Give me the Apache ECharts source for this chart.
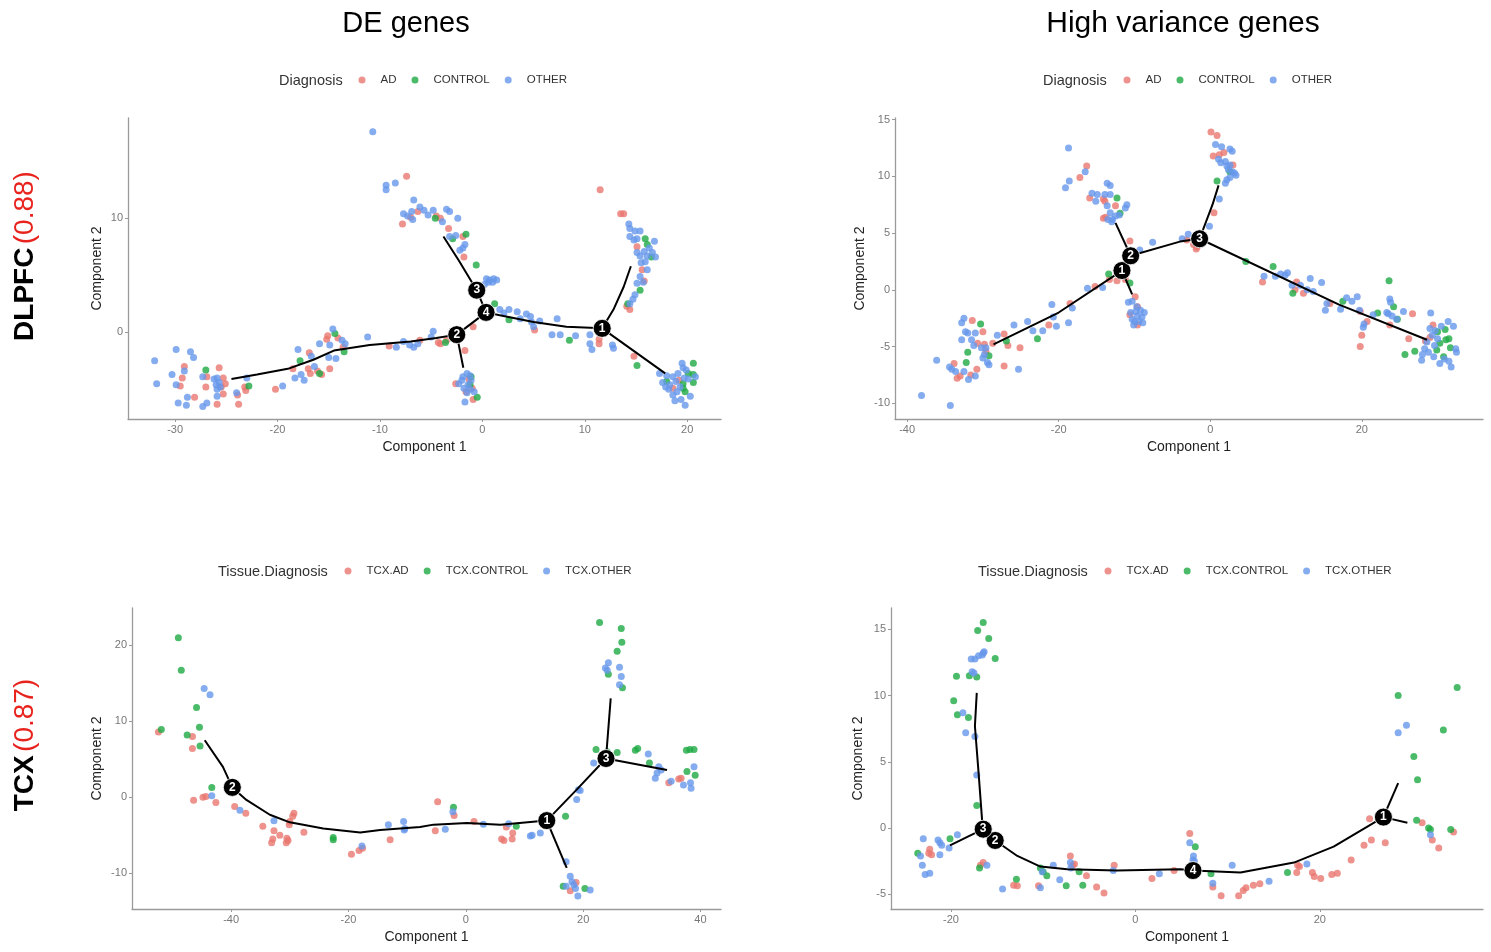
<!DOCTYPE html>
<html>
<head>
<meta charset="utf-8">
<title>Trajectories</title>
<script src="https://cdn.jsdelivr.net/npm/echarts@6/dist/echarts.min.js"></script>
<style>
  html, body { margin: 0; padding: 0; background: #fff; }
  #chart { width: 1491px; height: 952px; }
</style>
</head>
<body>
<div id="chart"></div>
<script>
// ---- DLPFC / DE genes ----
const p1AD = [[-7.4,13.7],[-7.8,9.5],[-6.3,10.6],[-7.0,10.1],[-4.5,10.2],[-4.1,10.0],[-3.3,9.1],[-1.9,8.4],[-1.8,6.6],[5.1,0.2],[11.4,-0.6],[11.4,-1.0],[14.8,-2.1],[-4.3,-0.9],[-0.9,0.5],[-1.7,-1.6],[-2.6,-4.5],[-1.3,-4.1],[-1.0,-4.9],[-1.6,-5.2],[-0.9,-5.9],[11.5,12.5],[13.5,10.4],[13.8,10.4],[15.1,7.5],[15.6,5.5],[15.8,4.5],[14.1,2.3],[14.4,2.0],[19.2,-4.2],[18.6,-4.9],[-29.5,-4.7],[-29.3,-4.0],[-29.1,-3.0],[-28.1,-5.7],[-26.9,-3.9],[-27.0,-4.8],[-25.9,-6.3],[-25.7,-3.1],[-25.3,-4.0],[-25.1,-4.5],[-25.3,-5.4],[-25.5,-4.8],[-23.9,-5.5],[-23.8,-6.3],[-23.2,-4.8],[-23.1,-5.1],[-20.2,-5.0],[-18.5,-3.2],[-16.9,-1.8],[-17.0,-3.2],[-16.8,-3.6],[-16.1,-3.4],[-15.7,-3.7],[-15.1,-0.3],[-15.2,-0.6],[-14.9,-3.2],[-14.1,-0.5],[-13.6,-1.3],[-9.1,-1.2],[-6.1,-0.7],[-4.1,-1.0],[-3.5,-0.7]];
const p1CONTROL = [[-4.6,10.0],[-2.9,8.2],[-1.6,8.6],[-0.6,5.9],[1.2,2.5],[2.6,1.1],[8.5,-0.7],[15.1,-2.9],[-3.6,-0.9],[-1.1,-3.9],[-1.2,-4.6],[-0.5,-5.7],[15.9,8.2],[16.1,7.7],[16.5,6.6],[15.4,3.7],[14.2,2.5],[20.6,-2.7],[20.1,-3.6],[20.6,-3.7],[20.6,-4.4],[19.6,-4.5],[19.6,-4.9],[19.8,-5.2],[18.0,-4.3],[-27.0,-3.3],[-22.8,-4.7],[-17.8,-2.5],[-15.9,-3.6],[-14.4,-0.1],[-13.5,-1.7]];
const p1OTHER = [[-10.7,17.6],[-9.4,12.9],[-9.4,12.5],[-8.5,13.1],[-6.7,11.6],[-7.7,10.4],[-6.9,10.6],[-6.1,11.0],[-5.7,10.7],[-6.8,9.9],[-4.8,10.7],[-3.9,9.7],[-3.5,10.8],[-3.2,10.6],[-2.4,10.0],[-3.2,8.4],[-2.6,8.5],[-1.7,7.7],[-1.9,7.4],[-2.2,7.2],[-7.3,10.2],[-5.3,10.3],[0.4,4.7],[0.7,4.6],[1.1,4.7],[0.6,4.4],[1.0,4.4],[1.4,4.6],[0.2,4.2],[1.7,2.0],[2.6,2.0],[3.4,1.8],[3.7,1.2],[4.7,1.4],[4.8,0.9],[5.0,0.5],[5.6,1.0],[6.8,-0.2],[7.3,1.2],[7.6,-0.2],[9.1,-0.3],[10.5,-0.2],[10.5,-1.0],[10.7,-1.5],[12.7,-1.1],[12.8,-1.4],[4.3,1.6],[2.1,1.7],[-4.8,0.1],[-7.7,-0.8],[-7.1,-1.1],[-6.7,-1.3],[-6.3,-1.0],[-8.4,-1.3],[-11.2,-0.4],[-5.0,-0.4],[-2.3,-4.5],[-1.9,-3.9],[-1.5,-3.6],[-1.2,-3.8],[-1.1,-4.2],[-1.4,-4.6],[-1.8,-4.9],[-1.2,-5.0],[-1.5,-5.3],[-0.8,-5.2],[-1.7,-6.1],[-2.0,-4.2],[14.3,9.5],[14.4,9.1],[14.9,8.9],[15.4,8.9],[14.4,8.4],[14.8,8.1],[15.1,8.2],[15.1,7.0],[15.4,6.7],[15.8,7.1],[16.1,6.7],[16.6,7.0],[16.9,6.6],[15.9,6.2],[15.5,6.1],[16.1,5.5],[15.4,4.9],[15.1,4.3],[15.7,4.4],[14.9,3.3],[14.7,2.9],[14.4,2.5],[16.8,8.0],[16.3,7.4],[17.3,-3.6],[17.6,-4.4],[18.0,-3.8],[18.3,-4.6],[18.6,-3.9],[18.9,-4.3],[19.1,-3.6],[19.3,-4.8],[19.6,-3.1],[19.5,-2.7],[19.9,-3.3],[20.1,-4.1],[19.0,-5.2],[18.6,-5.5],[19.4,-5.9],[19.8,-6.4],[20.3,-5.6],[18.2,-5.0],[19.7,-4.0],[20.8,-3.9],[17.9,-4.8],[18.8,-6.0],[-32.0,-2.5],[-31.8,-4.5],[-30.3,-3.7],[-29.9,-1.5],[-29.9,-4.6],[-29.1,-3.4],[-29.7,-6.2],[-28.8,-5.7],[-28.9,-6.4],[-28.5,-1.7],[-28.2,-2.2],[-27.3,-6.5],[-26.9,-6.2],[-27.3,-3.9],[-26.2,-4.1],[-25.9,-4.0],[-25.7,-4.4],[-26.0,-4.6],[-25.9,-5.0],[-25.6,-4.8],[-25.9,-5.6],[-24.0,-5.3],[-23.0,-4.0],[-19.5,-4.7],[-18.3,-4.0],[-18.0,-1.5],[-17.7,-3.7],[-17.4,-4.2],[-16.7,-2.1],[-16.4,-3.0],[-15.9,-1.0],[-14.9,-1.1],[-14.6,0.3],[-15.0,-2.2],[-13.7,-0.7],[-14.3,-2.3],[-13.4,-1.0]];
const p1Path = [
  [[-24.5,-4.1],[-22.0,-3.7],[-19.0,-3.2],[-16.5,-2.4],[-14.5,-1.6],[-11.0,-1.1],[-7.0,-0.8],[-4.5,-0.5],[-2.5,-0.2],[0.36,1.75],[1.7,1.5],[5.0,0.9],[8.2,0.5],[11.7,0.35],[17.85,-3.6]],
  [[-2.5,-0.2],[-1.86,-3.1]],
  [[0.36,1.75],[-0.55,3.7],[-2.3,6.3],[-3.8,8.4]],
  [[11.7,0.35],[12.8,2.0],[13.8,4.0],[14.5,5.8]]
];
const p1Nodes = [[11.7,0.35,'1'],[-2.5,-0.2,'2'],[-0.55,3.7,'3'],[0.36,1.75,'4']];
const p1XTicks = [-30,-20,-10,0,10,20];
const p1YTicks = [0,10];

// ---- DLPFC / High variance genes ----
const p2AD = [[-33.8,-6.5],[-33.4,-7.8],[-33.0,-7.6],[-31.6,-7.5],[-30.8,-7.0],[-31.4,-2.7],[-30.7,-4.7],[-30.0,-3.7],[-29.8,-4.8],[-29.6,-5.4],[-28.7,-4.7],[-27.2,-3.9],[-27.2,-6.7],[-26.7,-4.9],[-25.1,-5.1],[-21.3,-3.1],[-18.5,-1.2],[-15.2,0.3],[-13.3,0.9],[-12.3,0.8],[-11.2,0.9],[-10.6,4.3],[-9.9,-0.6],[-10.6,-2.2],[-9.6,-3.1],[-9.6,-1.5],[-16.3,10.9],[-17.2,9.9],[-15.9,8.1],[-14.1,8.0],[-13.9,7.8],[-12.5,7.4],[-14.1,6.3],[-13.8,6.4],[0.1,13.9],[0.9,13.6],[0.4,11.8],[1.2,11.9],[1.8,12.1],[3.0,11.0],[0.5,6.8],[-3.1,4.4],[-2.2,4.0],[-1.85,3.6],[-1.7,3.8],[6.9,0.7],[11.4,0.7],[11.2,0.0],[12.3,-0.3],[15.8,-1.2],[19.8,-1.9],[20.0,-4.0],[19.8,-5.0],[20.7,-2.8],[23.7,-3.1],[26.7,-2.1],[26.2,-4.3],[29.4,-3.1],[29.0,-4.2],[28.4,-4.5]];
const p2CONTROL = [[-32.0,-5.5],[-32.2,-6.4],[-30.3,-3.0],[-29.2,-5.8],[-26.9,-4.5],[-22.8,-4.3],[-13.4,1.4],[-10.6,0.6],[-12.3,8.1],[-11.9,6.75],[2.6,10.4],[0.9,9.6],[4.7,2.5],[8.3,2.05],[10.9,-0.3],[17.5,-1.0],[22.1,-2.05],[23.6,0.8],[24.2,-1.5],[24.7,-2.6],[25.7,-5.7],[27.0,-5.4],[31.0,-3.5],[31.1,-4.4],[31.7,-5.1],[30.3,-4.7],[29.9,-5.3],[30.8,-5.9],[31.5,-4.3],[30.0,-3.7]];
const p2OTHER = [[-38.1,-9.3],[-34.3,-10.2],[-36.1,-6.2],[-34.4,-6.8],[-34.1,-7.0],[-33.6,-7.2],[-31.9,-7.9],[-31.0,-7.6],[-32.5,-7.2],[-32.8,-2.9],[-32.5,-2.5],[-32.8,-4.4],[-32.3,-3.7],[-32.0,-3.8],[-31.5,-4.4],[-31.2,-4.9],[-31.0,-3.8],[-30.2,-5.1],[-30.0,-6.0],[-29.8,-5.7],[-29.6,-5.1],[-29.4,-6.4],[-29.2,-6.6],[-28.1,-4.0],[-25.9,-3.1],[-25.3,-7.0],[-24.1,-2.8],[-23.4,-3.6],[-22.1,-3.6],[-20.9,-1.3],[-20.7,-2.4],[-20.3,-3.2],[-18.7,-2.9],[-18.2,-1.6],[-16.2,0.15],[-14.2,0.2],[-9.3,3.5],[-7.6,4.2],[-10.8,-1.1],[-10.3,-1.0],[-9.7,-1.5],[-9.2,-1.8],[-9.0,-2.4],[-9.4,-2.8],[-10.1,-3.1],[-10.3,-2.6],[-10.5,-2.0],[-9.8,-1.9],[-8.7,-2.0],[-9.6,-2.3],[-10.0,-2.8],[-8.9,-2.9],[-18.7,12.5],[-16.5,10.4],[-18.6,9.6],[-19.1,9.0],[-13.6,9.4],[-13.2,9.2],[-15.6,8.5],[-14.9,8.4],[-13.9,8.4],[-15.1,7.8],[-13.2,8.4],[-13.6,7.4],[-13.2,6.8],[-12.5,6.5],[-12.0,6.6],[-12.9,6.2],[-13.5,6.2],[-13.0,6.0],[-11.2,7.2],[-11.0,7.5],[0.7,12.8],[1.5,12.6],[2.6,12.4],[2.9,12.2],[1.1,11.5],[1.4,11.2],[2.0,11.3],[2.2,10.9],[2.6,11.0],[2.4,10.6],[2.9,10.4],[3.2,10.3],[3.4,10.1],[2.6,9.9],[2.2,9.7],[2.0,9.4],[1.2,8.0],[-0.1,5.6],[-3.7,4.5],[-2.9,4.9],[7.1,1.2],[8.6,1.2],[9.9,1.3],[10.2,1.5],[9.3,1.4],[10.8,0.4],[11.9,0.4],[12.8,0.0],[13.2,1.0],[13.6,-0.15],[14.7,0.65],[15.2,-1.8],[15.4,-1.2],[17.2,-1.7],[18.0,-0.7],[18.7,-1.0],[19.4,-0.6],[19.7,-1.8],[20.2,-3.3],[20.3,-3.0],[21.5,-2.2],[23.3,-2.0],[23.7,-0.8],[23.8,-1.1],[23.5,-2.1],[24.0,-2.3],[24.6,-2.6],[25.5,-1.9],[29.1,-2.05],[32.1,-3.2],[32.5,-5.5],[31.8,-6.8],[30.3,-6.5],[27.9,-6.2],[28.6,-4.6],[29.0,-3.4],[29.3,-4.0],[29.6,-4.9],[28.8,-5.5],[29.5,-5.9],[30.0,-4.3],[30.5,-3.2],[28.3,-5.2],[29.7,-3.6],[30.9,-6.1],[31.5,-6.3],[28.0,-5.7],[32.4,-5.2],[31.4,-2.8]];
const p2Path = [
  [[-28.6,-4.8],[-20.0,-2.0],[-11.65,1.7],[-10.5,3.0],[-4.0,4.25],[-1.4,4.5],[17.0,-1.3],[28.6,-4.4]],
  [[-11.65,1.7],[-10.3,-0.4]],
  [[-10.5,3.0],[-12.5,5.9]],
  [[-1.4,4.5],[0.3,7.5],[1.1,9.2]]
];
const p2Nodes = [[-11.65,1.7,'1'],[-10.5,3.0,'2'],[-1.4,4.5,'3']];
const p2XTicks = [-40,-20,0,20];
const p2YTicks = [-10,-5,0,5,10,15];

// ---- TCX / DE genes ----
const p3AD = [[-52.4,8.6],[-46.6,8.0],[-46.6,6.4],[-44.8,0.0],[-46.4,-0.4],[-44.3,0.1],[-42.6,-0.7],[-39.4,-1.2],[-37.5,-2.1],[-34.6,-3.8],[-32.7,-4.4],[-32.9,-5.5],[-33.1,-6.0],[-31.7,-5.0],[-30.5,-5.4],[-30.6,-6.0],[-30.3,-5.7],[-30.1,-3.6],[-30.0,-3.2],[-29.3,-2.1],[-29.5,-2.5],[-27.6,-4.6],[-19.5,-7.5],[-18.2,-7.0],[-17.6,-6.7],[-12.9,-5.6],[-4.8,-0.6],[-2.0,-2.4],[-5.2,-4.4],[1.4,-3.2],[6.9,-3.9],[6.1,-5.5],[6.5,-5.7],[7.9,-5.5],[8.0,-4.7],[17.8,-12.3],[18.8,-11.2],[34.6,1.9],[36.3,2.4],[36.7,2.5]];
const p3CONTROL = [[-49.0,21.0],[-48.5,16.7],[-45.9,11.8],[-45.4,9.2],[-51.9,8.9],[-47.5,8.2],[-45.3,6.75],[-43.3,1.3],[-22.6,-5.3],[-22.6,-5.6],[-2.1,-1.3],[8.6,-3.8],[17.0,-2.5],[16.6,-11.7],[20.3,-12.0],[22.8,23.0],[26.5,22.2],[26.6,20.4],[25.8,19.2],[24.3,16.2],[26.7,14.4],[22.2,6.3],[24.1,6.0],[25.8,5.9],[28.9,6.2],[29.3,6.4],[31.3,4.5],[37.6,6.2],[38.2,6.3],[38.9,6.3],[37.7,3.4],[39.1,2.9]];
const p3OTHER = [[-44.6,14.3],[-43.6,13.5],[-43.3,0.2],[-38.5,-1.7],[-32.7,-3.1],[-17.7,-6.4],[-13.2,-3.6],[-10.6,-3.2],[-10.4,-4.1],[-10.5,-4.3],[-3.5,-4.2],[-2.2,-1.9],[3.0,-3.55],[7.3,-3.5],[11.0,-5.1],[11.3,-5.0],[12.7,-4.7],[18.9,-0.3],[19.2,1.0],[19.5,0.9],[17.1,-8.5],[17.8,-10.4],[18.1,-11.1],[18.4,-11.5],[18.7,-12.0],[19.1,-13.0],[21.2,-12.2],[17.1,-11.7],[24.3,17.7],[23.8,17.0],[24.1,16.7],[26.2,17.1],[26.5,15.9],[26.2,14.8],[21.8,4.5],[31.1,5.7],[32.9,4.0],[33.3,3.6],[32.6,3.2],[32.3,2.5],[35.0,2.1],[38.9,4.0],[38.3,1.9],[37.1,1.6],[38.4,1.2]];
const p3Path = [
  [[-44.5,7.5],[-41.4,4.0],[-39.8,1.3],[-37.4,-0.35],[-33.4,-2.3],[-30.0,-3.3],[-24.3,-4.1],[-18.0,-4.65],[-14.6,-4.3],[-7.8,-3.9],[-5.5,-3.6],[0.2,-3.4],[5.9,-3.6],[13.8,-3.07],[18.9,1.0],[23.9,5.1],[34.3,3.6]],
  [[23.9,5.1],[24.7,13.0]],
  [[13.8,-3.07],[17.2,-9.3]]
];
const p3Nodes = [[13.8,-3.07,'1'],[-39.8,1.3,'2'],[23.9,5.1,'3']];
const p3XTicks = [-40,-20,0,20,40];
const p3YTicks = [-10,0,10,20];

// ---- TCX / High variance genes ----
const p4AD = [[-22.3,-1.6],[-22.1,-2.0],[-22.4,-1.9],[-16.5,-2.6],[-16.8,-2.8],[-13.2,-4.3],[-12.8,-4.35],[-10.5,-4.35],[-7.05,-2.1],[-6.8,-2.8],[-6.6,-2.7],[-5.3,-3.6],[-4.2,-4.45],[-3.4,-4.9],[-2.3,-2.8],[1.8,-3.8],[4.2,-3.2],[5.9,-0.4],[8.4,-4.45],[9.3,-5.1],[11.2,-5.1],[11.7,-4.7],[12.0,-4.5],[12.8,-4.3],[13.5,-4.2],[17.5,-3.35],[17.6,-2.8],[17.8,-2.9],[19.2,-3.35],[19.4,-3.65],[20.1,-3.8],[21.3,-3.5],[21.9,-3.4],[23.4,-2.4],[24.8,-1.3],[25.6,-0.9],[27.1,-1.1],[25.4,0.7],[31.1,0.4],[32.2,-0.9],[32.9,-1.5],[34.5,-0.3]];
const p4CONTROL = [[-16.5,15.5],[-17.1,14.9],[-15.9,14.3],[-15.2,12.8],[-19.4,11.45],[-18.0,11.5],[-17.2,11.4],[-19.7,9.6],[-19.3,8.55],[-18.1,8.35],[-17.2,1.7],[-20.1,-0.8],[-23.6,-1.9],[-16.9,-3.0],[-12.9,-3.85],[-10.3,-3.0],[-10.0,-3.3],[-9.6,-3.6],[-7.5,-4.35],[-6.1,-3.3],[-5.7,-4.3],[6.5,-1.4],[8.2,-3.45],[16.5,-3.35],[28.5,10.0],[34.9,10.6],[33.4,7.4],[30.2,5.4],[30.6,3.65],[30.5,0.6],[31.8,0.0],[32.0,-0.1],[34.2,-0.1]];
const p4OTHER = [[-17.8,12.75],[-17.4,12.75],[-17.0,13.0],[-16.5,13.2],[-16.4,13.3],[-16.6,13.05],[-17.7,11.8],[-17.5,11.7],[-18.7,8.7],[-18.4,7.2],[-17.4,6.9],[-17.2,4.0],[-19.3,-0.5],[-21.4,-0.9],[-21.2,-1.1],[-21.0,-1.3],[-20.2,-1.5],[-21.2,-2.0],[-23.0,-0.8],[-23.3,-2.1],[-23.1,-2.8],[-22.8,-3.5],[-22.3,-3.4],[-16.1,-2.8],[-14.4,-4.6],[-10.1,-3.3],[-10.3,-4.5],[-8.9,-2.8],[-8.2,-3.9],[-7.05,-2.6],[-7.0,-3.0],[-2.4,-3.2],[2.6,-3.45],[5.9,-1.1],[6.3,-2.1],[6.25,-2.4],[6.4,-2.5],[8.4,-4.15],[10.5,-2.8],[14.5,-4.0],[18.6,-2.7],[28.5,7.2],[29.4,7.75],[32.0,-0.5]];
const p4Path = [
  [[-20.1,-1.3],[-16.5,-0.08],[-15.2,-0.93],[-12.8,-2.1],[-10.3,-2.9],[-7.4,-3.1],[-2.0,-3.2],[4.9,-3.1],[6.25,-3.2],[11.4,-3.35],[17.2,-2.6],[21.5,-1.4],[26.9,0.83],[29.5,0.4]],
  [[-16.5,-0.08],[-16.6,0.4],[-17.0,4.15],[-17.4,7.7],[-17.2,10.2]],
  [[26.9,0.83],[28.5,3.4]]
];
const p4Nodes = [[26.9,0.83,'1'],[-15.2,-0.93,'2'],[-16.5,-0.08,'3'],[6.25,-3.2,'4']];
const p4XTicks = [-20,0,20];
const p4YTicks = [-5,0,5,10,15];

const groupColors = ['#E8776F', '#1EAA45', '#6697EB'];
const FONT = '"Liberation Sans", Arial, sans-serif';

const panels = [
  { grid: { left: 128, top: 118, width: 593, height: 301 },
    x: { min: -34.6, max: 23.3, ticks: p1XTicks }, y: { min: -7.6, max: 18.8, ticks: p1YTicks },
    names: ['AD', 'CONTROL', 'OTHER'], groups: [p1AD, p1CONTROL, p1OTHER],
    path: p1Path, nodes: p1Nodes, yGap: 24, legend: { title: 'Diagnosis', titleX: 279, left: 358.5, y: 81 } },
  { grid: { left: 895, top: 118, width: 588, height: 301 },
    x: { min: -41.6, max: 36.0, ticks: p2XTicks }, y: { min: -11.38, max: 15.14, ticks: p2YTicks },
    names: ['AD', 'CONTROL', 'OTHER'], groups: [p2AD, p2CONTROL, p2OTHER],
    path: p2Path, nodes: p2Nodes, yGap: 28, legend: { title: 'Diagnosis', titleX: 1043, left: 1123.5, y: 81 } },
  { grid: { left: 132, top: 608, width: 589, height: 301 },
    x: { min: -56.9, max: 43.5, ticks: p3XTicks }, y: { min: -14.7, max: 24.9, ticks: p3YTicks },
    names: ['TCX.AD', 'TCX.CONTROL', 'TCX.OTHER'], groups: [p3AD, p3CONTROL, p3OTHER],
    path: p3Path, nodes: p3Nodes, yGap: 28, legend: { title: 'Tissue.Diagnosis', titleX: 218, left: 344.5, y: 572 } },
  { grid: { left: 891, top: 608, width: 592, height: 301 },
    x: { min: -26.5, max: 37.7, ticks: p4XTicks }, y: { min: -6.1, max: 16.6, ticks: p4YTicks },
    names: ['TCX.AD', 'TCX.CONTROL', 'TCX.OTHER'], groups: [p4AD, p4CONTROL, p4OTHER],
    path: p4Path, nodes: p4Nodes, yGap: 26, legend: { title: 'Tissue.Diagnosis', titleX: 978, left: 1104.5, y: 572 } }
];

const makeAxis = (idx, r, name, gap) => ({
  type: 'value',
  gridIndex: idx,
  min: r.min,
  max: r.max,
  name: name,
  nameLocation: 'middle',
  nameGap: gap,
  nameTextStyle: { color: '#222', fontSize: 14, fontFamily: FONT },
  axisLine: { show: true, onZero: false, lineStyle: { color: '#9a9a9a', width: 1.3 } },
  axisTick: { show: true, length: 3, customValues: r.ticks, lineStyle: { color: '#9a9a9a' } },
  axisLabel: { customValues: r.ticks, color: '#777', fontSize: 11, margin: 5, fontFamily: FONT },
  splitLine: { show: false }
})

const grid = []
const xAxis = []
const yAxis = []
const series = []
const legend = []
const graphic = [
  { type: 'text', x: 406, y: 24, style: { text: 'DE genes', fill: '#000', font: '29px ' + FONT, align: 'center', verticalAlign: 'middle' } },
  { type: 'text', x: 1183, y: 24, style: { text: 'High variance genes', fill: '#000', font: '30px ' + FONT, align: 'center', verticalAlign: 'middle' } },
  { type: 'text', x: 25, y: 256, rotation: Math.PI / 2,
    style: { text: '{a|DLPFC} {b|(0.88)}', align: 'center', verticalAlign: 'middle',
      rich: { a: { fontSize: 28, fontWeight: 'bold', fill: '#000', fontFamily: FONT }, b: { fontSize: 28, fill: '#e8221c', fontFamily: FONT } } } },
  { type: 'text', x: 25, y: 745, rotation: Math.PI / 2,
    style: { text: '{a|TCX} {b|(0.87)}', align: 'center', verticalAlign: 'middle',
      rich: { a: { fontSize: 28, fontWeight: 'bold', fill: '#000', fontFamily: FONT }, b: { fontSize: 28, fill: '#e8221c', fontFamily: FONT } } } }
]

panels.forEach((p, i) => {
  grid.push(Object.assign({ containLabel: false }, p.grid))
  xAxis.push(makeAxis(i, p.x, 'Component 1', 21))
  yAxis.push(makeAxis(i, p.y, 'Component 2', p.yGap))

  p.groups.forEach((pts, g) => {
    series.push({
      type: 'scatter',
      name: p.names[g],
      xAxisIndex: i,
      yAxisIndex: i,
      data: pts,
      symbolSize: 7,
      itemStyle: { color: groupColors[g] },
      z: 2
    })
  })

  p.path.forEach((branch) => {
    series.push({
      type: 'line',
      name: 'path',
      xAxisIndex: i,
      yAxisIndex: i,
      data: branch,
      showSymbol: false,
      lineStyle: { color: '#000', width: 2 },
      z: 3,
      silent: true
    })
  })

  series.push({
    type: 'scatter',
    name: 'nodes',
    xAxisIndex: i,
    yAxisIndex: i,
    data: p.nodes,
    symbolSize: 18,
    itemStyle: { color: '#000', borderColor: '#fff', borderWidth: 0.8, opacity: 1 },
    label: {
      show: true,
      position: 'inside',
      formatter: (d) => d.data[2],
      color: '#fff',
      fontSize: 12,
      fontWeight: 'bold',
      fontFamily: FONT
    },
    z: 4
  })

  legend.push({
    data: p.names,
    left: p.legend.left,
    top: p.legend.y - 7,
    padding: 0,
    itemGap: 15,
    itemWidth: 7,
    itemHeight: 7,
    icon: 'circle',
    selectedMode: false,
    textStyle: { color: '#333', fontSize: 11.5, fontFamily: FONT, padding: [0, 0, 0, 10] }
  })
  graphic.push({ type: 'text', x: p.legend.titleX, y: p.legend.y,
    style: { text: p.legend.title, fill: '#333', font: '14.5px ' + FONT, verticalAlign: 'middle' } })
})

const chart = echarts.init(document.getElementById('chart'))
chart.setOption({
  animation: false,
  backgroundColor: '#fff',
  grid,
  xAxis,
  yAxis,
  legend,
  series,
  graphic
})
</script>
</body>
</html>
